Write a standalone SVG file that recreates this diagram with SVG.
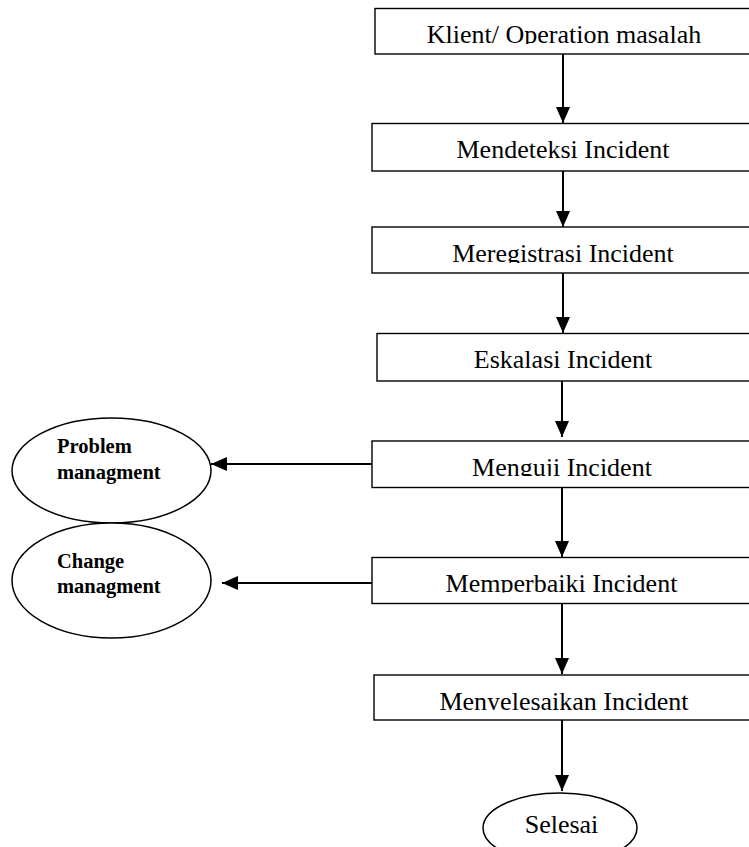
<svg xmlns="http://www.w3.org/2000/svg" width="749" height="847" viewBox="0 0 749 847">
<style>
.box{fill:#fff;stroke:#000;stroke-width:1.4}
.ell{fill:#fff;stroke:#000;stroke-width:1.5}
.t{font-family:"Liberation Serif","Times New Roman",serif;font-size:26px;fill:#000;text-anchor:middle}
.b{font-family:"Liberation Serif","Times New Roman",serif;font-size:20.5px;font-weight:bold;fill:#000}
.c{stroke:#000;stroke-width:2;fill:none;marker-end:url(#ah)}
</style>
<defs>
<marker id="ah" markerUnits="userSpaceOnUse" markerWidth="16" markerHeight="14" refX="16" refY="7" orient="auto">
<path d="M0,0 L16,7 L0,14 Z" fill="#000"/>
</marker>
<clipPath id="c1"><rect x="375" y="8" width="380" height="36"/></clipPath>
<clipPath id="c2"><rect x="372" y="123" width="380" height="36"/></clipPath>
<clipPath id="c3"><rect x="372" y="227" width="380" height="36"/></clipPath>
<clipPath id="c4"><rect x="377" y="333" width="380" height="36"/></clipPath>
<clipPath id="c5"><rect x="372" y="441" width="380" height="35"/></clipPath>
<clipPath id="c6"><rect x="372" y="557" width="380" height="35.5"/></clipPath>
<clipPath id="c7"><rect x="374" y="675" width="380" height="35"/></clipPath>
</defs>
<rect width="749" height="847" fill="#fff"/>
<g id="connectors">
<line class="c" x1="563" y1="54" x2="563" y2="123"/>
<line class="c" x1="563" y1="171" x2="563" y2="227"/>
<line class="c" x1="563" y1="273" x2="563" y2="333"/>
<line class="c" x1="562" y1="381" x2="562" y2="437"/>
<line class="c" x1="562" y1="487" x2="562" y2="557"/>
<line class="c" x1="562" y1="604" x2="562" y2="674"/>
<line class="c" x1="562" y1="720" x2="562" y2="791"/>
<line class="c" x1="372" y1="464" x2="211" y2="464"/>
<line class="c" x1="372" y1="583" x2="222" y2="583"/>
</g>
<g id="n1"><rect class="box" x="375" y="8.5" width="385" height="45.5"/><text class="t" x="564" y="43" clip-path="url(#c1)">Klient/ Operation masalah</text></g>
<g id="n2"><rect class="box" x="372" y="123.5" width="388" height="47.5"/><text class="t" x="563" y="158" clip-path="url(#c2)">Mendeteksi Incident</text></g>
<g id="n3"><rect class="box" x="372" y="227" width="388" height="46"/><text class="t" x="563" y="262" clip-path="url(#c3)">Meregistrasi Incident</text></g>
<g id="n4"><rect class="box" x="377" y="333.5" width="383" height="47.5"/><text class="t" x="563" y="368" clip-path="url(#c4)">Eskalasi Incident</text></g>
<g id="n5"><rect class="box" x="372" y="441" width="388" height="46.5"/><text class="t" x="562" y="475.5" clip-path="url(#c5)">Menguji Incident</text></g>
<g id="n6"><rect class="box" x="372" y="557.5" width="388" height="46"/><text class="t" x="561.5" y="592" clip-path="url(#c6)">Memperbaiki Incident</text></g>
<g id="n7"><rect class="box" x="374" y="675" width="386" height="45"/><text class="t" x="564" y="709.5" clip-path="url(#c7)">Menyelesaikan Incident</text></g>
<g id="n8"><ellipse class="ell" cx="111.5" cy="470.5" rx="99.5" ry="52.5"/><text class="b" x="57" y="453">Problem</text><text class="b" x="57" y="479">managment</text></g>
<g id="n9"><ellipse class="ell" cx="111.5" cy="580.5" rx="99.5" ry="57.5"/><text class="b" x="57" y="568">Change</text><text class="b" x="57" y="593">managment</text></g>
<g id="n10"><ellipse class="ell" cx="560" cy="828" rx="77" ry="35"/><text class="t" x="561.5" y="833">Selesai</text></g>
</svg>
